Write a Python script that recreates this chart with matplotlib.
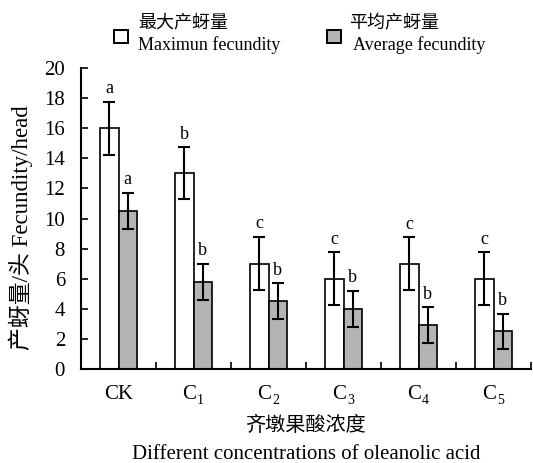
import matplotlib
matplotlib.use("Agg")
import matplotlib.pyplot as plt
from matplotlib.patches import Rectangle
import numpy as np

categories = ["CK", "C1", "C2", "C3", "C4", "C5"]
max_vals = [16.0, 13.0, 7.0, 6.0, 7.0, 6.0]
max_err = [1.75, 1.73, 1.77, 1.75, 1.75, 1.75]
max_letters = ["a", "b", "c", "c", "c", "c"]
avg_vals = [10.5, 5.8, 4.5, 4.0, 2.9, 2.5]
avg_err = [1.2, 1.2, 1.2, 1.2, 1.2, 1.18]
avg_letters = ["a", "b", "b", "b", "b", "b"]
yticks = [0, 2, 4, 6, 8, 10, 12, 14, 16, 18, 20]

plt.rcParams['font.family'] = ['Liberation Serif', 'Noto Sans CJK SC']

fig = plt.figure(figsize=(5.33, 4.63), dpi=100)
ax = fig.add_axes([81/533, 1-369/463, 450/533, (369-68)/463])

x = np.arange(len(categories))
w = 0.25
ekw = dict(elinewidth=1.5, capthick=1.5, capsize=4.2, ecolor='black')
ax.bar(x - w/2, max_vals, w, color='white', edgecolor='black', linewidth=1.2,
       yerr=max_err, error_kw=ekw, zorder=2)
ax.bar(x + w/2, avg_vals, w, color='#b4b4b4', edgecolor='black', linewidth=1.2,
       yerr=avg_err, error_kw=ekw, zorder=2)

for i in range(len(categories)):
    ax.text(x[i] - w/2, max_vals[i] + max_err[i] + 0.3, max_letters[i],
            ha='center', va='bottom', fontsize=13)
    ax.text(x[i] + w/2, avg_vals[i] + avg_err[i] + 0.3, avg_letters[i],
            ha='center', va='bottom', fontsize=13)

ax.set_xlim(-0.5, 5.5)
ax.set_ylim(0, 20)
ax.set_yticks(yticks)
ax.set_yticklabels([str(t) for t in yticks], fontsize=15)
ax.set_xticks(x)
ax.set_xticklabels([""] * len(categories))
ax.set_xticks(np.arange(0.5, 6, 1), minor=True)
ax.tick_params(axis='x', which='major', length=0)
ax.tick_params(axis='x', which='minor', direction='in', length=5, width=1.2)
ax.tick_params(axis='y', which='major', direction='in', length=5, width=1.2, pad=11.5)

# category labels with subscripts
px = 0.72  # points per pixel
for i, cat in enumerate(categories):
    if cat == "CK":
        ax.annotate(cat, xy=(x[i], 0), xycoords=('data', 'axes fraction'),
                    xytext=(0, -30 * px), textcoords='offset points',
                    ha='center', va='baseline', fontsize=15)
    else:
        ax.annotate(cat[0], xy=(x[i], 0), xycoords=('data', 'axes fraction'),
                    xytext=(2.5 * px, -30 * px), textcoords='offset points',
                    ha='right', va='baseline', fontsize=15)
        ax.annotate(cat[1:], xy=(x[i], 0), xycoords=('data', 'axes fraction'),
                    xytext=(3.5 * px, -35 * px), textcoords='offset points',
                    ha='left', va='baseline', fontsize=10)

for s in ['top', 'right']:
    ax.spines[s].set_visible(False)
for s in ['left', 'bottom']:
    ax.spines[s].set_linewidth(1.5)

# y label
fig.text(21/533, 1-228/463, "产蚜量/头 Fecundity/head", rotation=90,
         ha='center', va='center', fontsize=16.5)
# x labels
fig.text(306/533, 1-426/463, "齐墩果酸浓度", ha='center', va='center', fontsize=14.5)
fig.text(306/533, 1-459/463, "Different concentrations of oleanolic acid",
         ha='center', va='baseline', fontsize=15)

# legend
for (sx, col, cn, cx, ex, en) in [(114, 'white', "最大产蚜量", 138, 138, "Maximun fecundity"),
                                  (327, '#b4b4b4', "平均产蚜量", 349, 353, "Average fecundity")]:
    fig.patches.append(Rectangle((sx/533, 1-43/463), 14/533, 13/463,
                                 transform=fig.transFigure, facecolor=col,
                                 edgecolor='black', linewidth=1.4))
    fig.text(cx/533, 1-22.5/463, cn, ha='left', va='center', fontsize=13)
    fig.text(ex/533, 1-49.5/463, en, ha='left', va='baseline', fontsize=13)

fig.savefig("out.png", dpi=100)
